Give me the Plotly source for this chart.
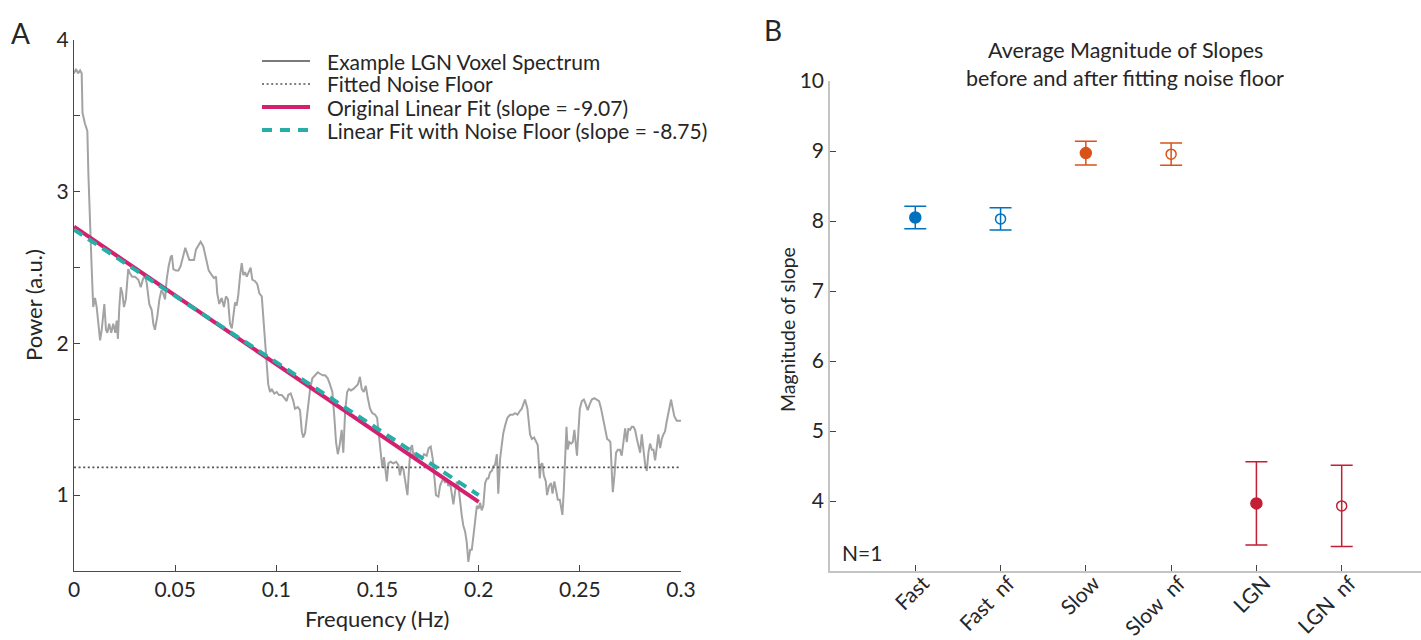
import plotly.graph_objects as go

# ---------------- Panel A data ----------------
freq_hz = [
    0.0000, 0.0010, 0.0020, 0.0030, 0.0038, 0.0042, 0.0054, 0.0066, 0.0071, 0.0079,
    0.0087, 0.0095, 0.0104, 0.0112, 0.0120, 0.0129, 0.0137, 0.0145, 0.0150, 0.0158,
    0.0165, 0.0174, 0.0184, 0.0194, 0.0204, 0.0211, 0.0217, 0.0224, 0.0231, 0.0239,
    0.0247, 0.0256, 0.0263, 0.0268, 0.0277, 0.0287, 0.0302, 0.0318, 0.0330, 0.0340,
    0.0351, 0.0359, 0.0372, 0.0384, 0.0392, 0.0400, 0.0412, 0.0422, 0.0432, 0.0441,
    0.0450, 0.0458, 0.0468, 0.0478, 0.0484, 0.0491, 0.0504, 0.0516, 0.0527, 0.0540,
    0.0550, 0.0560, 0.0570, 0.0583, 0.0593, 0.0603, 0.0614, 0.0626, 0.0639, 0.0652,
    0.0666, 0.0681, 0.0692, 0.0702, 0.0708, 0.0718, 0.0730, 0.0741, 0.0751, 0.0761,
    0.0771, 0.0780, 0.0787, 0.0796, 0.0804, 0.0812, 0.0821, 0.0829, 0.0837, 0.0845,
    0.0854, 0.0862, 0.0873, 0.0881, 0.0895, 0.0906, 0.0916, 0.0928, 0.0936, 0.0944,
    0.0953, 0.0960, 0.0969, 0.0977, 0.0990, 0.1002, 0.1013, 0.1027, 0.1040, 0.1051,
    0.1059, 0.1071, 0.1084, 0.1092, 0.1106, 0.1117, 0.1126, 0.1133, 0.1142, 0.1150,
    0.1158, 0.1167, 0.1178, 0.1191, 0.1205, 0.1216, 0.1229, 0.1241, 0.1254, 0.1265,
    0.1277, 0.1287, 0.1295, 0.1304, 0.1313, 0.1323, 0.1331, 0.1340, 0.1350, 0.1359,
    0.1369, 0.1381, 0.1393, 0.1403, 0.1413, 0.1422, 0.1432, 0.1442, 0.1452, 0.1463,
    0.1475, 0.1488, 0.1498, 0.1508, 0.1516, 0.1524, 0.1532, 0.1546, 0.1554, 0.1565,
    0.1578, 0.1592, 0.1603, 0.1611, 0.1620, 0.1628, 0.1636, 0.1648, 0.1657, 0.1664,
    0.1671, 0.1677, 0.1686, 0.1694, 0.1707, 0.1719, 0.1730, 0.1743, 0.1753, 0.1763,
    0.1773, 0.1781, 0.1789, 0.1801, 0.1809, 0.1818, 0.1826, 0.1834, 0.1842, 0.1850,
    0.1859, 0.1867, 0.1875, 0.1883, 0.1892, 0.1900, 0.1908, 0.1916, 0.1924, 0.1933,
    0.1941, 0.1949, 0.1958, 0.1966, 0.1974, 0.1982, 0.1991, 0.1999, 0.2007, 0.2015,
    0.2023, 0.2032, 0.2041, 0.2048, 0.2056, 0.2065, 0.2073, 0.2081, 0.2090, 0.2097,
    0.2106, 0.2114, 0.2122, 0.2131, 0.2142, 0.2155, 0.2169, 0.2180, 0.2192, 0.2201,
    0.2213, 0.2229, 0.2241, 0.2254, 0.2263, 0.2274, 0.2284, 0.2292, 0.2302, 0.2308,
    0.2315, 0.2322, 0.2332, 0.2338, 0.2348, 0.2358, 0.2365, 0.2374, 0.2383, 0.2391,
    0.2401, 0.2407, 0.2414, 0.2421, 0.2427, 0.2434, 0.2440, 0.2448, 0.2457, 0.2465,
    0.2473, 0.2480, 0.2486, 0.2493, 0.2500, 0.2510, 0.2520, 0.2529, 0.2539, 0.2549,
    0.2559, 0.2572, 0.2584, 0.2595, 0.2605, 0.2615, 0.2625, 0.2635, 0.2645, 0.2651,
    0.2658, 0.2663, 0.2671, 0.2679, 0.2688, 0.2698, 0.2707, 0.2715, 0.2724, 0.2732,
    0.2740, 0.2748, 0.2757, 0.2765, 0.2773, 0.2782, 0.2790, 0.2798, 0.2806, 0.2814,
    0.2823, 0.2831, 0.2839, 0.2847, 0.2856, 0.2864, 0.2872, 0.2880, 0.2888, 0.2897,
    0.2905, 0.2913, 0.2921, 0.2930, 0.2938, 0.2946, 0.2951, 0.2958, 0.2967, 0.2979,
    0.2991, 0.3000,
]
power_au = [
    3.78, 3.81, 3.78, 3.80, 3.78, 3.52, 3.45, 3.40, 3.12, 2.77,
    2.51, 2.24, 2.30, 2.24, 2.11, 2.02, 2.09, 2.20, 2.26, 2.09,
    2.07, 2.13, 2.07, 2.13, 2.07, 2.15, 2.03, 2.24, 2.37, 2.33,
    2.24, 2.29, 2.40, 2.49, 2.46, 2.44, 2.44, 2.42, 2.37, 2.42,
    2.45, 2.40, 2.26, 2.22, 2.13, 2.09, 2.18, 2.29, 2.35, 2.33,
    2.29, 2.42, 2.51, 2.57, 2.58, 2.49, 2.48, 2.48, 2.51, 2.57,
    2.63, 2.59, 2.55, 2.55, 2.55, 2.62, 2.64, 2.67, 2.64, 2.57,
    2.48, 2.45, 2.43, 2.44, 2.33, 2.26, 2.30, 2.24, 2.31, 2.29,
    2.13, 2.10, 2.19, 2.27, 2.25, 2.32, 2.45, 2.53, 2.45, 2.47,
    2.44, 2.47, 2.50, 2.42, 2.41, 2.39, 2.33, 2.31, 2.17, 2.01,
    1.86, 1.73, 1.68, 1.70, 1.67, 1.68, 1.66, 1.66, 1.64, 1.62,
    1.66, 1.67, 1.62, 1.57, 1.58, 1.56, 1.42, 1.38, 1.41, 1.51,
    1.62, 1.70, 1.77, 1.79, 1.81, 1.80, 1.79, 1.79, 1.77, 1.73,
    1.68, 1.51, 1.35, 1.27, 1.33, 1.43, 1.28, 1.55, 1.68, 1.70,
    1.69, 1.70, 1.72, 1.73, 1.78, 1.70, 1.68, 1.72, 1.64, 1.57,
    1.54, 1.53, 1.51, 1.40, 1.28, 1.18, 1.25, 1.09, 1.21, 1.22,
    1.21, 1.22, 1.20, 1.13, 1.19, 1.17, 1.11, 1.00, 1.20, 1.31,
    1.33, 1.26, 1.28, 1.24, 1.26, 1.24, 1.27, 1.26, 1.31, 1.32,
    1.24, 1.11, 1.00, 0.99, 1.06, 1.09, 1.11, 1.08, 1.11, 1.06,
    1.08, 1.01, 0.94, 1.02, 1.09, 1.06, 0.95, 0.87, 0.80, 0.76,
    0.69, 0.56, 0.64, 0.64, 0.73, 0.84, 0.93, 0.91, 0.95, 0.90,
    0.93, 1.08, 1.11, 1.11, 1.15, 1.16, 1.19, 1.20, 1.27, 1.01,
    1.24, 1.33, 1.41, 1.46, 1.51, 1.53, 1.53, 1.54, 1.53, 1.55,
    1.57, 1.63, 1.57, 1.40, 1.37, 1.38, 1.35, 1.33, 1.11, 1.20,
    1.21, 1.13, 1.09, 1.00, 1.06, 1.08, 1.01, 1.09, 1.03, 0.97,
    0.97, 0.93, 0.87, 1.04, 1.26, 1.45, 1.30, 1.35, 1.34, 1.35,
    1.43, 1.35, 1.26, 1.42, 1.57, 1.62, 1.63, 1.60, 1.56, 1.60,
    1.63, 1.64, 1.63, 1.62, 1.57, 1.51, 1.43, 1.37, 1.36, 1.35,
    1.15, 1.02, 1.13, 1.28, 1.30, 1.30, 1.26, 1.35, 1.44, 1.35,
    1.44, 1.43, 1.45, 1.45, 1.43, 1.37, 1.33, 1.28, 1.40, 1.28,
    1.20, 1.16, 1.28, 1.34, 1.30, 1.30, 1.23, 1.31, 1.40, 1.31,
    1.37, 1.40, 1.42, 1.49, 1.54, 1.58, 1.63, 1.58, 1.52, 1.49,
    1.49, 1.49,
]
noise_floor_freq = [0.0, 0.3]
noise_floor_power = [1.183, 1.183]
fit_freq = [0.0, 0.2]
original_fit_power = [2.77, 0.956]
noisefloor_fit_power = [2.75, 1.0]

legend_labels = [
    "Example LGN Voxel Spectrum",
    "Fitted Noise Floor",
    "Original Linear Fit (slope = -9.07)",
    "Linear Fit with Noise Floor (slope = -8.75)",
]

x_tick_vals_a = [0, 0.05, 0.1, 0.15, 0.2, 0.25, 0.3]
x_tick_text_a = ["0", "0.05", "0.1", "0.15", "0.2", "0.25", "0.3"]
y_tick_vals_a = [0.5, 1, 1.5, 2, 2.5, 3, 3.5, 4]
y_tick_text_a = ["", "1", "", "2", "", "3", "", "4"]

# ---------------- Panel B data ----------------
conditions = ["Fast", "Fast_nf", "Slow", "Slow_nf", "LGN", "LGN_nf"]
condition_labels = ["Fast", "Fast\u2002nf", "Slow", "Slow\u2002nf", "LGN", "LGN\u2002nf"]
slope_means = [8.05, 8.03, 8.97, 8.955, 3.965, 3.93]
slope_errors = [0.16, 0.16, 0.17, 0.16, 0.595, 0.58]
cond_colors = ["#0072BD", "#0072BD", "#D95319", "#D95319", "#C41E34", "#C41E34"]
cond_filled = [True, False, True, False, True, False]
y_tick_vals_b = [4, 5, 6, 7, 8, 9, 10]

# ---------------- Figure ----------------
W, H = 1421, 640
FONT = "Lato, 'Open Sans', sans-serif"
TXT = "#262626"
FS = 21


def fx(px):
    return px / W


def fy(py):
    return 1 - py / H


fig = go.Figure()

fig.add_trace(go.Scatter(x=freq_hz, y=power_au, mode="lines",
                         line=dict(color="#a3a3a3", width=2),
                         xaxis="x", yaxis="y", showlegend=False))
fig.add_trace(go.Scatter(x=noise_floor_freq, y=noise_floor_power, mode="lines",
                         line=dict(color="#555555", width=1.6, dash="2px,2.6px"),
                         xaxis="x", yaxis="y", showlegend=False))
fig.add_trace(go.Scatter(x=fit_freq, y=original_fit_power, mode="lines",
                         line=dict(color="#D4206E", width=4),
                         xaxis="x", yaxis="y", showlegend=False))
fig.add_trace(go.Scatter(x=fit_freq, y=noisefloor_fit_power, mode="lines",
                         line=dict(color="#27AEA8", width=4, dash="10px,7px"),
                         xaxis="x", yaxis="y", showlegend=False))

for cond, m, e, c, filled in zip(conditions, slope_means, slope_errors, cond_colors, cond_filled):
    fig.add_trace(go.Scatter(
        x=[cond], y=[m], mode="markers",
        marker=dict(symbol="circle" if filled else "circle-open",
                    size=11 if filled else 10,
                    color=c, line=dict(width=1.5, color=c)),
        error_y=dict(type="data", array=[e], color=c, thickness=1.5, width=11),
        xaxis="x2", yaxis="y2", showlegend=False))

axis_common = dict(showgrid=False, zeroline=False, showline=True, ticks="inside",
                   ticklen=6, tickcolor="#444444",
                   tickfont=dict(family=FONT, size=FS, color=TXT), automargin=False)

fig.update_layout(
    width=W, height=H,
    margin=dict(l=0, r=0, t=0, b=0),
    paper_bgcolor="white", plot_bgcolor="white",
    font=dict(family=FONT, size=FS, color=TXT),
    showlegend=False,
    xaxis=dict(domain=[fx(74), fx(681)], range=[0, 0.3], anchor="y",
               tickvals=x_tick_vals_a, ticktext=x_tick_text_a,
               linecolor="#4a4a4a", linewidth=1.2, **axis_common),
    yaxis=dict(domain=[fy(571), fy(40)], range=[0.5, 4], anchor="x",
               tickvals=y_tick_vals_a, ticktext=y_tick_text_a,
               linecolor="#4a4a4a", linewidth=1.2, **axis_common),
    xaxis2=dict(domain=[fx(830), 1], range=[-1, 5.93], anchor="y2", type="category",
                categoryorder="array", categoryarray=conditions,
                tickvals=conditions, ticktext=condition_labels, tickangle=-45,
                ticklabelstandoff=-10, ticklabelshift=8,
                linecolor="#c4c4c4", linewidth=1.6, **axis_common),
    yaxis2=dict(domain=[fy(571), fy(81)], range=[3, 10], anchor="x2",
                tickvals=y_tick_vals_b,
                linecolor="#c4c4c4", linewidth=1.6, **axis_common),
)

# manual legend for panel A
leg_y = [61, 84, 107, 130]
leg_styles = [
    dict(color="#7a7a7a", width=2),
    dict(color="#555555", width=1.6, dash="2px,2.6px"),
    dict(color="#D4206E", width=4),
    dict(color="#27AEA8", width=4, dash="10px,8px"),
]
shapes = []
annotations = []
for yy, st, lab in zip(leg_y, leg_styles, legend_labels):
    shapes.append(dict(type="line", xref="paper", yref="paper",
                       x0=fx(262), x1=fx(310), y0=fy(yy), y1=fy(yy), line=st))
    annotations.append(dict(text=lab, xref="paper", yref="paper", x=fx(325), y=fy(yy),
                            xanchor="left", yanchor="middle", showarrow=False,
                            font=dict(family=FONT, size=FS, color=TXT)))


def ann(text, px, py, size=FS, xanchor="center", angle=0):
    annotations.append(dict(text=text, xref="paper", yref="paper", x=fx(px), y=fy(py),
                            xanchor=xanchor, yanchor="middle", showarrow=False,
                            textangle=angle, font=dict(family=FONT, size=size, color=TXT)))


ann("A", 20, 33, size=28)
ann("B", 773, 30, size=28)
ann("Frequency (Hz)", 377, 618, size=22)
ann("Power (a.u.)", 33, 305, size=22, angle=-90)
ann("Magnitude of slope", 787, 330, size=19.5, angle=-90)
ann("Average Magnitude of Slopes", 1125, 50, size=21.5)
ann("before and after fitting noise floor", 1125, 78, size=21.5)
ann("N=1", 840, 552, xanchor="left")

fig.update_layout(shapes=shapes, annotations=annotations)

fig.write_html("out.html", config={"displayModeBar": False},
               post_script="document.body.style.margin='0';document.body.style.padding='0';")
